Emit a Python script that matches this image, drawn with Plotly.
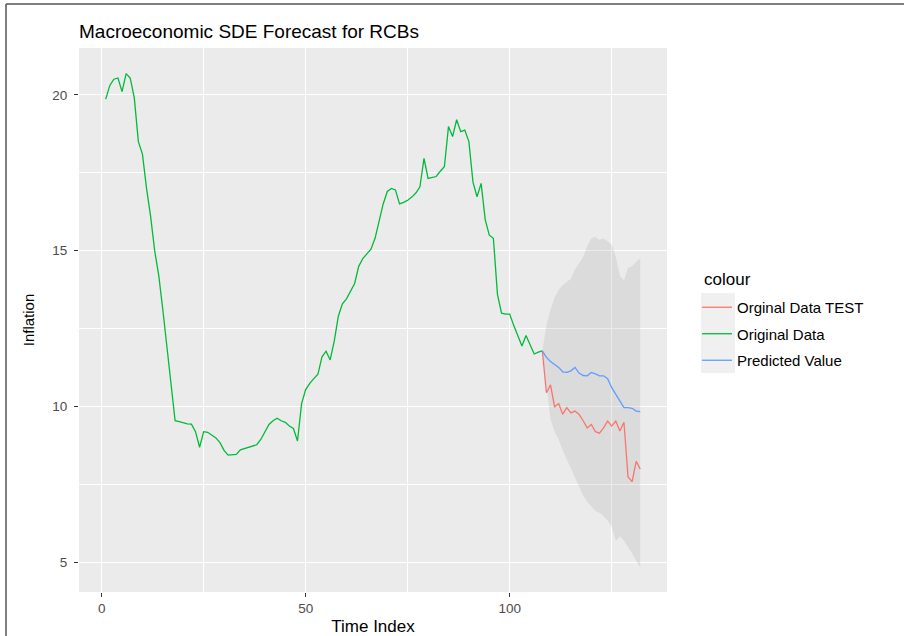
import plotly.graph_objects as go

# ---------------- data ----------------
time_orig = list(range(1, 109))
original = [
    19.86, 20.30, 20.50, 20.54, 20.10, 20.68, 20.54, 19.90, 18.50, 18.10,
    17.00, 16.10, 15.00, 14.20, 13.10, 11.90, 10.60, 9.55, 9.52, 9.48,
    9.45, 9.44, 9.20, 8.70, 9.20, 9.18, 9.10, 9.00, 8.85, 8.60,
    8.45, 8.45, 8.47, 8.62, 8.66, 8.70, 8.73, 8.78, 8.95, 9.20,
    9.43, 9.55, 9.63, 9.55, 9.50, 9.38, 9.30, 8.90, 10.10, 10.55,
    10.75, 10.90, 11.04, 11.60, 11.78, 11.50, 12.10, 12.90, 13.30, 13.46,
    13.70, 13.95, 14.50, 14.75, 14.90, 15.05, 15.40, 16.00, 16.50, 16.90,
    17.00, 16.95, 16.50, 16.55, 16.62, 16.72, 16.85, 17.05, 17.96, 17.32,
    17.35, 17.38, 17.55, 17.70, 18.98, 18.66, 19.20, 18.82, 18.87, 18.50,
    17.20, 16.73, 17.16, 16.00, 15.50, 15.40, 13.60, 13.00, 12.97, 12.97,
    12.60, 12.25, 11.95, 12.28, 12.00, 11.69, 11.75, 11.79,
]

time_test = list(range(108, 133))
test_data = [
    11.79, 10.45, 10.70, 10.00, 10.10, 9.76, 9.97, 9.80, 9.86, 9.75,
    9.55, 9.32, 9.43, 9.20, 9.15, 9.32, 9.54, 9.38, 9.54, 9.22,
    9.50, 7.75, 7.60, 8.25, 8.00,
]
predicted = [
    11.79, 11.58, 11.45, 11.35, 11.26, 11.12, 11.10, 11.15, 11.26, 11.08,
    11.00, 10.99, 11.10, 11.05, 10.99, 10.99, 10.90, 10.61, 10.40, 10.20,
    9.97, 9.97, 9.95, 9.86, 9.84,
]
upper = [
    11.79, 12.60, 13.10, 13.50, 13.75, 13.90, 14.00, 14.10, 14.40, 14.60,
    14.80, 15.15, 15.40, 15.44, 15.35, 15.39, 15.30, 15.20, 14.80, 14.20,
    14.05, 14.45, 14.50, 14.65, 14.75,
]
lower = [
    11.79, 10.60, 9.60, 9.20, 8.95, 8.60, 8.30, 8.00, 7.75, 7.45,
    7.15, 6.95, 6.80, 6.66, 6.60, 6.50, 6.35, 6.15, 5.70, 5.85,
    5.70, 5.50, 5.30, 5.05, 4.85,
]

x_ticks = [0, 50, 100]
x_minor = [25, 75, 125]
y_ticks = [5, 10, 15, 20]
y_minor = [7.5, 12.5, 17.5]

series_names = ["Orginal Data TEST", "Original Data", "Predicted Value"]
series_colors = ["#F8766D", "#00BA38", "#619CFF"]

FONT = "Liberation Sans, Arial, sans-serif"

# ---------------- figure ----------------
fig = go.Figure()
fig.add_trace(go.Scatter(x=time_test, y=upper, mode="lines", line=dict(width=0),
                         showlegend=False, hoverinfo="skip"))
fig.add_trace(go.Scatter(x=time_test, y=lower, mode="lines", line=dict(width=0),
                         fill="tonexty", fillcolor="rgba(153,153,153,0.2)",
                         showlegend=False, hoverinfo="skip"))
fig.add_trace(go.Scatter(x=time_test, y=test_data, mode="lines", name=series_names[0],
                         line=dict(color=series_colors[0], width=1.3), legendgroup="a"))
fig.add_trace(go.Scatter(x=time_orig, y=original, mode="lines", name=series_names[1],
                         line=dict(color=series_colors[1], width=1.3), legendgroup="b"))
fig.add_trace(go.Scatter(x=time_test, y=predicted, mode="lines", name=series_names[2],
                         line=dict(color=series_colors[2], width=1.3), legendgroup="c"))

L, R, T, B = 79, 237, 48, 44
W, H = 904, 636
pw, ph = W - L - R, H - T - B

def px_x(p):
    return (p - L) / pw

def px_y(p):
    return (H - B - p) / ph

fig.update_layout(
    width=W, height=H,
    margin=dict(l=L, r=R, t=T, b=B, autoexpand=False),
    paper_bgcolor="white",
    plot_bgcolor="#EBEBEB",
    font=dict(family=FONT, color="black"),
    title=dict(text="Macroeconomic SDE Forecast for RCBs", x=L / W, xanchor="left",
               xref="container", y=1 - 31 / H, yref="container", yanchor="middle",
               font=dict(size=19, color="black", family=FONT)),
    xaxis=dict(range=[-5.55, 138.55], tickmode="array", tickvals=x_ticks,
               automargin=False,
               showgrid=True, gridcolor="white", gridwidth=1.1, zeroline=False,
               ticks="outside", ticklen=4, tickcolor="#333333", tickwidth=1,
               tickfont=dict(size=13.5, color="#4D4D4D"),
               minor=dict(tickvals=x_minor, showgrid=True, gridcolor="white",
                          gridwidth=0.55, ticks=""),
               title=dict(text="Time Index", font=dict(size=17, color="black"), standoff=8),
               showline=False),
    yaxis=dict(range=[4.06, 21.5], tickmode="array", tickvals=y_ticks,
               automargin=False,
               showgrid=True, gridcolor="white", gridwidth=1.1, zeroline=False,
               ticks="outside", ticklen=4, tickcolor="#333333", tickwidth=1,
               ticklabelstandoff=4,
               tickfont=dict(size=13.5, color="#4D4D4D"),
               minor=dict(tickvals=y_minor, showgrid=True, gridcolor="white",
                          gridwidth=0.55, ticks=""),
               title=dict(text="Inflation", font=dict(size=15, color="black"), standoff=14),
               showline=False),
    legend=dict(x=px_x(697), xanchor="left", y=px_y(291), yanchor="top",
                bgcolor="rgba(0,0,0,0)", tracegroupgap=4,
                font=dict(size=15, color="black")),
    annotations=[
        dict(text="colour", xref="paper", yref="paper", x=px_x(702), y=px_y(279),
             xanchor="left", yanchor="middle", showarrow=False,
             font=dict(size=17, color="black")),
    ],
    shapes=[
        dict(type="rect", xref="paper", yref="paper",
             x0=px_x(701), x1=px_x(735), y0=px_y(373), y1=px_y(293),
             fillcolor="#F0F0F0", line=dict(width=0), layer="above"),
        dict(type="line", xref="paper", yref="paper",
             x0=px_x(6), x1=px_x(910), y0=px_y(4), y1=px_y(4),
             line=dict(color="#555555", width=1.5)),
        dict(type="line", xref="paper", yref="paper",
             x0=px_x(6), x1=px_x(6), y0=px_y(4), y1=px_y(640),
             line=dict(color="#555555", width=1.5)),
    ],
)

fig.write_html("out.html")
